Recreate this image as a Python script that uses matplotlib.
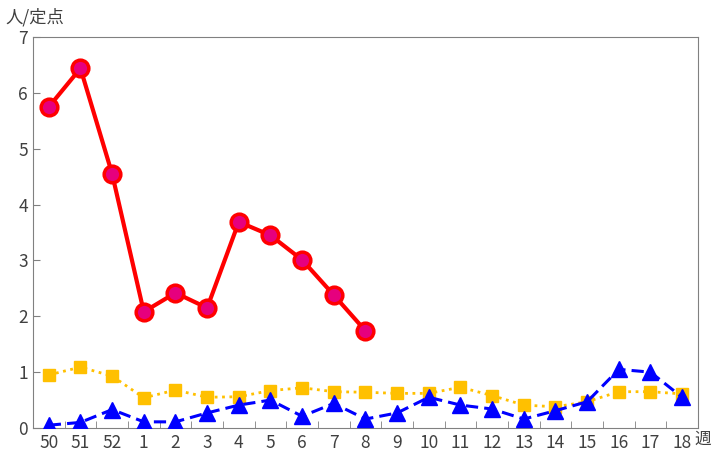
import numpy as np
import matplotlib.pyplot as plt

plt.rcParams['font.family'] = ['Noto Sans CJK JP', 'DejaVu Sans']

weeks = ["50", "51", "52", "1", "2", "3", "4", "5", "6", "7", "8", "9",
         "10", "11", "12", "13", "14", "15", "16", "17", "18"]
red_vals = [5.75, 6.44, 4.55, 2.08, 2.42, 2.15, 3.69, 3.45, 3.01, 2.38, 1.74]
yellow_vals = [0.95, 1.09, 0.93, 0.54, 0.68, 0.55, 0.56, 0.67, 0.72, 0.65, 0.64,
               0.62, 0.62, 0.73, 0.58, 0.41, 0.38, 0.47, 0.65, 0.65, 0.61]
blue_vals = [0.05, 0.10, 0.33, 0.11, 0.11, 0.27, 0.41, 0.50, 0.21, 0.44, 0.16,
             0.27, 0.55, 0.41, 0.34, 0.16, 0.31, 0.47, 1.05, 1.00, 0.55]

fig = plt.figure(figsize=(7.12, 4.53), dpi=100)
ax = fig.add_axes([0.0463, 0.0552, 0.9340, 0.8630])

x = np.arange(len(weeks))
ax.plot(x, yellow_vals, color="#FFC000", linestyle=":", linewidth=2,
        marker="s", markersize=9, zorder=2)
ax.plot(x, blue_vals, color="#0000FF", linestyle=(0, (4, 2)), linewidth=2.2,
        marker="^", markersize=11.5, zorder=3)
ax.plot(x[:len(red_vals)], red_vals, color="#FF0000", linewidth=3,
        marker="o", markersize=12, markerfacecolor="#E6007E",
        markeredgecolor="#FF0000", markeredgewidth=2.5, zorder=4)

ax.set_xlim(-0.5, len(weeks) - 0.5)
ax.set_ylim(0, 7)
ax.set_xticks(x)
ax.set_xticklabels(weeks)
ax.set_xticks(np.arange(-0.5, len(weeks), 1), minor=True)
ax.tick_params(axis="x", which="major", length=0, labelsize=12.5, colors="#404040", pad=4)
ax.tick_params(axis="x", which="minor", direction="in", length=5, color="#808080")
ax.tick_params(axis="y", direction="in", length=5, color="#808080", labelsize=12.5,
               labelcolor="#404040")
for s in ax.spines.values():
    s.set_color("#808080")

fig.text(0.008, 0.962, "人/定点", fontsize=12.5, color="#404040", va="center")
fig.text(0.998, 0.03, "週", fontsize=12, color="#404040", va="center", ha="right")

plt.savefig("out.png", dpi=100)
